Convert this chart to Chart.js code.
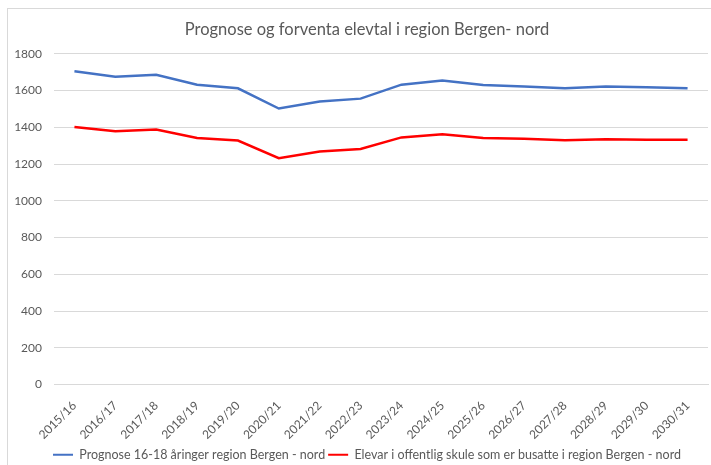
<!DOCTYPE html>
<html>
<head>
<meta charset="utf-8">
<script src="https://cdn.jsdelivr.net/npm/chart.js@4.4.0/dist/chart.umd.min.js"></script>
<style>
html,body{margin:0;padding:0;background:#fff;overflow:hidden;width:711px;height:465px;}
#frame{position:absolute;left:7px;top:8px;width:740px;height:480px;border:1px solid #d9d9d9;box-sizing:border-box;}
#wrap{position:absolute;left:0;top:0;width:734px;height:465px;}
</style>
</head>
<body>
<div id="frame"></div>
<div id="wrap"><canvas id="c" width="734" height="465"></canvas></div>
<script>
const title = "Prognose og forventa elevtal i region Bergen- nord";
const categories = ["2015/16","2016/17","2017/18","2018/19","2019/20","2020/21","2021/22","2022/23","2023/24","2024/25","2025/26","2026/27","2027/28","2028/29","2029/30","2030/31"];
const seriesNames = ["Prognose 16-18 åringer region Bergen - nord","Elevar i offentlig skule som er busatte i region Bergen - nord"];
const prognose = [1705,1675,1686,1632,1612,1502,1540,1556,1632,1654,1630,1622,1612,1622,1618,1612];
const elevar = [1402,1378,1388,1342,1328,1232,1268,1282,1345,1362,1342,1338,1330,1335,1332,1332];
const yTicks = [0,200,400,600,800,1000,1200,1400,1600,1800];

const FONT = "Lato, 'Liberation Sans', sans-serif";
const GREY = "#595959";

const shiftPlugin = {
  id: 'shiftCenter',
  afterLayout(chart) {
    const d = 13;
    if (chart.titleBlock) { chart.titleBlock.left += d; chart.titleBlock.right += d; }
    if (chart.legend) { chart.legend.left += d; chart.legend.right += d; chart.legend.top += 6; chart.legend.bottom += 6; }
  }
};

new Chart(document.getElementById('c'), {
  type: 'line',
  data: {
    labels: categories,
    datasets: [
      {label: seriesNames[0], data: prognose, borderColor: '#4472C4', backgroundColor: '#4472C4', borderWidth: 2.5, pointRadius: 0, tension: 0, fill: false},
      {label: seriesNames[1], data: elevar, borderColor: '#FF0000', backgroundColor: '#FF0000', borderWidth: 2.5, pointRadius: 0, tension: 0, fill: false}
    ]
  },
  plugins: [shiftPlugin],
  options: {
    responsive: false,
    animation: false,
    layout: {padding: {left: 0, right: 26, top: 0, bottom: 0}},
    plugins: {
      title: {display: true, text: title, color: GREY, font: {family: FONT, size: 16.5, weight: 'normal'}, padding: {top: 20, bottom: 14}},
      legend: {
        position: 'bottom',
        labels: {
          color: GREY, font: {family: FONT, size: 12.5}, boxWidth: 20, boxHeight: 2, padding: 3,
          generateLabels: (chart) => Chart.defaults.plugins.legend.labels.generateLabels(chart).map(l => Object.assign(l, {lineWidth: 0}))
        }
      },
      tooltip: {enabled: false}
    },
    scales: {
      y: {
        min: 0, max: 1800,
        afterBuildTicks: (s) => { s.ticks = yTicks.map(v => ({value: v})); },
        afterFit: (s) => { s.width = 54; },
        grid: {color: '#d9d9d9', lineWidth: 1, drawTicks: false},
        border: {display: false},
        ticks: {color: GREY, font: {family: FONT, size: 12}, padding: 12, callback: (v) => String(v)}
      },
      x: {
        offset: true,
        afterFit: (s) => { s.height = 55; },
        grid: {display: false},
        border: {display: true, color: '#d9d9d9'},
        ticks: {color: GREY, font: {family: FONT, size: 12}, minRotation: 45, maxRotation: 45, padding: 6, autoSkip: false}
      }
    }
  }
});
</script>
</body>
</html>
